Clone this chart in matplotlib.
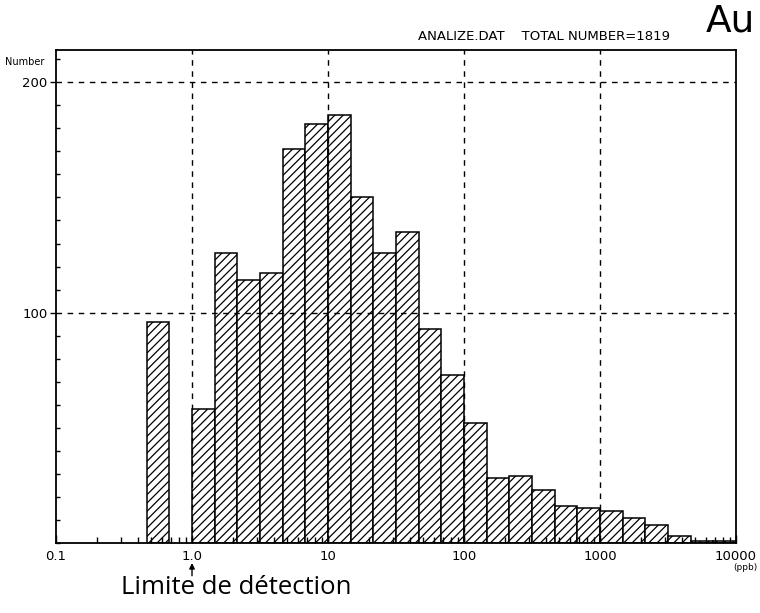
import numpy as np
import matplotlib.pyplot as plt
from matplotlib.ticker import FixedLocator, LogLocator, NullFormatter, MultipleLocator

plt.rcParams['font.family'] = ['Liberation Sans Narrow', 'DejaVu Sans']
plt.rcParams['hatch.linewidth'] = 0.9

# six classes per decade, class k spans 10**(k/6) .. 10**((k+1)/6) ppb
bin_index = list(range(-2, 24))
counts = [96, 0, 58, 126, 114, 117, 171, 182, 186, 150, 126, 135, 93,
          73, 52, 28, 29, 23, 16, 15, 14, 11, 8, 3, 1, 1]
x_ticks = [0.1, 1.0, 10, 100, 1000, 10000]
x_labels = ['0.1', '1.0', '10', '100', '1000', '10000']
y_ticks = [100, 200]

lo = np.array([10 ** (k / 6) for k in bin_index])
hi = np.array([10 ** ((k + 1) / 6) for k in bin_index])
n = np.array(counts)
keep = n > 0

fig = plt.figure(figsize=(7.6, 6.13), dpi=100)
ax = fig.add_axes([0.0737, 0.1142, 0.8947, 0.8042])

ax.bar(lo[keep], n[keep], width=hi[keep] - lo[keep], align='edge',
       color='white', edgecolor='black', linewidth=1.1, hatch='////')

ax.set_xscale('log')
ax.set_xlim(0.1, 10000)
ax.set_ylim(0, 214)

ax.set_xticks(x_ticks)
ax.set_xticklabels(x_labels, fontsize=9.5)
ax.xaxis.set_minor_locator(LogLocator(base=10, subs=np.arange(2, 10)))
ax.xaxis.set_minor_formatter(NullFormatter())
ax.tick_params(axis='x', which='major', direction='in', length=6, width=1, pad=5)
ax.tick_params(axis='x', which='minor', direction='in', length=4, width=1)

ax.yaxis.set_major_locator(FixedLocator(y_ticks))
ax.yaxis.set_minor_locator(MultipleLocator(10))
ax.tick_params(axis='y', which='major', direction='out', length=4, width=1,
               labelsize=9.5, pad=2)
ax.tick_params(axis='y', which='minor', direction='in', length=3, width=1)

for s in ax.spines.values():
    s.set_linewidth(1.3)

# dashed grid lines drawn over the bars
for xv in [1, 10, 100, 1000]:
    ax.axvline(xv, color='black', lw=1, ls=(0, (4, 4)), zorder=5)
for yv in y_ticks:
    ax.axhline(yv, color='black', lw=1, ls=(0, (4, 4)), zorder=5)

fig.text(0.007, 1 - 62 / 613, 'Number', fontsize=7, va='center', ha='left')
fig.text(0.981, 1 - 568 / 613, '(ppb)', fontsize=6.5, va='center', ha='center')
fig.text(0.882, 1 - 37 / 613, 'ANALIZE.DAT    TOTAL NUMBER=1819',
         fontsize=9.5, va='center', ha='right')
fig.text(0.993, 1 - 22 / 613, 'Au', fontsize=27, va='center', ha='right',
         family='DejaVu Sans')

ax.annotate('', xy=(1.0, -0.035), xytext=(1.0, -0.072),
            xycoords=('data', 'axes fraction'),
            textcoords=('data', 'axes fraction'),
            arrowprops=dict(arrowstyle='-|>', color='black', lw=1,
                            mutation_scale=8))
fig.text(0.311, 1 - 587 / 613, 'Limite de détection', fontsize=18.5,
         va='center', ha='center', family='Open Sans')

fig.savefig('out.png', dpi=100)
